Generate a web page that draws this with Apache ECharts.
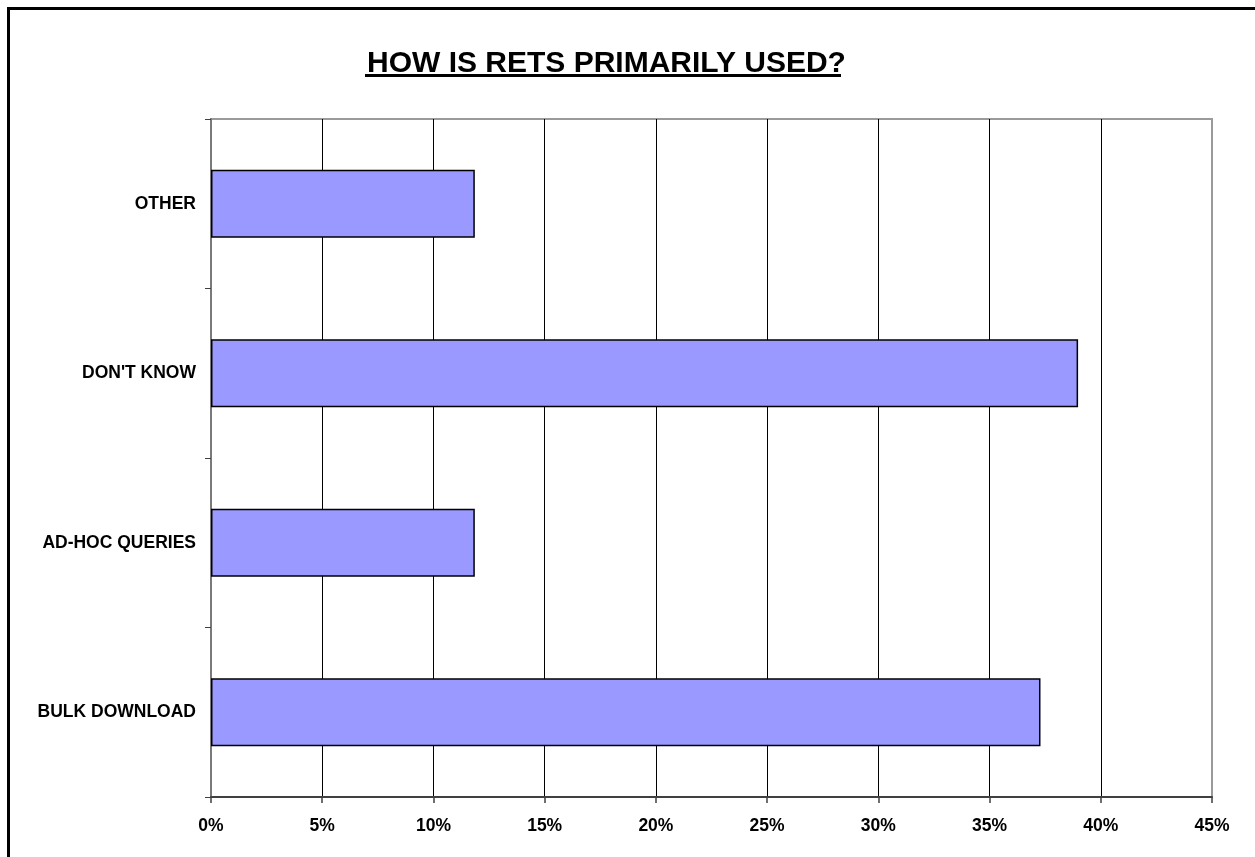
<!DOCTYPE html>
<html>
<head>
<meta charset="utf-8">
<style>
  html, body { margin: 0; padding: 0; background: #ffffff; }
  #chart { width: 1255px; height: 857px; }
</style>
<script src="https://cdn.jsdelivr.net/npm/echarts@6/dist/echarts.min.js"></script>
</head>
<body>
<div id="chart"></div>
<script>
// Survey answers, bottom to top as they appear on the category axis
const categories = ['BULK DOWNLOAD', 'AD-HOC QUERIES', "DON'T KNOW", 'OTHER'];
// Share of respondents (%)
const shares = [37.29, 11.86, 38.98, 11.86];
// Value axis range and step (%)
const axisMin = 0;
const axisMax = 45;
const axisStep = 5;

const FONT = '"Liberation Sans", Arial, Helvetica, sans-serif';

const chart = echarts.init(document.getElementById('chart'), null, { renderer: 'canvas' });

// Gridline colours: plain black, the closing one at the right edge in grey
const gridColors = [];
for (let v = axisMin; v <= axisMax; v += axisStep) {
  gridColors.push(v === axisMax ? '#9a9a9a' : '#000000');
}

chart.setOption({
  backgroundColor: '#ffffff',
  animation: false,
  title: {
    text: 'HOW IS RETS PRIMARILY USED?',
    left: 362,
    top: 44,
    textStyle: {
      fontFamily: FONT,
      fontWeight: 'bold',
      fontSize: 30,
      color: '#000000'
    }
  },
  graphic: [
    // underline of the heading
    { type: 'rect', shape: { x: 365, y: 74, width: 476, height: 3 }, style: { fill: '#000000' }, silent: true },
    // outer frame of the chart area
    { type: 'rect', shape: { x: 8.5, y: 8.5, width: 1400, height: 1000 }, style: { fill: 'none', stroke: '#000000', lineWidth: 3 }, silent: true, z: 100 }
  ],
  grid: {
    left: 211,
    top: 119,
    width: 1001,
    height: 678,
    show: true,
    borderColor: '#9a9a9a',
    borderWidth: 2,
    backgroundColor: 'transparent'
  },
  xAxis: {
    type: 'value',
    min: axisMin,
    max: axisMax,
    interval: axisStep,
    axisLine: { show: true, onZero: false, lineStyle: { color: '#404040', width: 2 } },
    axisTick: { show: true, length: 6, lineStyle: { color: '#404040', width: 1.5 } },
    axisLabel: {
      formatter: v => v + '%',
      fontFamily: FONT,
      fontWeight: 'bold',
      fontSize: 17.5,
      color: '#000000',
      margin: 20
    },
    splitLine: { show: true, lineStyle: { color: gridColors, width: 1 } }
  },
  yAxis: {
    type: 'category',
    data: categories,
    boundaryGap: true,
    axisLine: { show: true, lineStyle: { color: '#7a7a7a', width: 2 } },
    axisTick: { show: true, length: 6, alignWithLabel: false, lineStyle: { color: '#404040', width: 1 } },
    axisLabel: {
      fontFamily: FONT,
      fontWeight: 'bold',
      fontSize: 17.5,
      color: '#000000',
      margin: 15
    },
    splitLine: { show: false }
  },
  series: [{
    type: 'bar',
    data: shares,
    barWidth: '40%',
    itemStyle: {
      color: '#9999ff',
      borderColor: '#000000',
      borderWidth: 1.5
    }
  }]
});
</script>
</body>
</html>
